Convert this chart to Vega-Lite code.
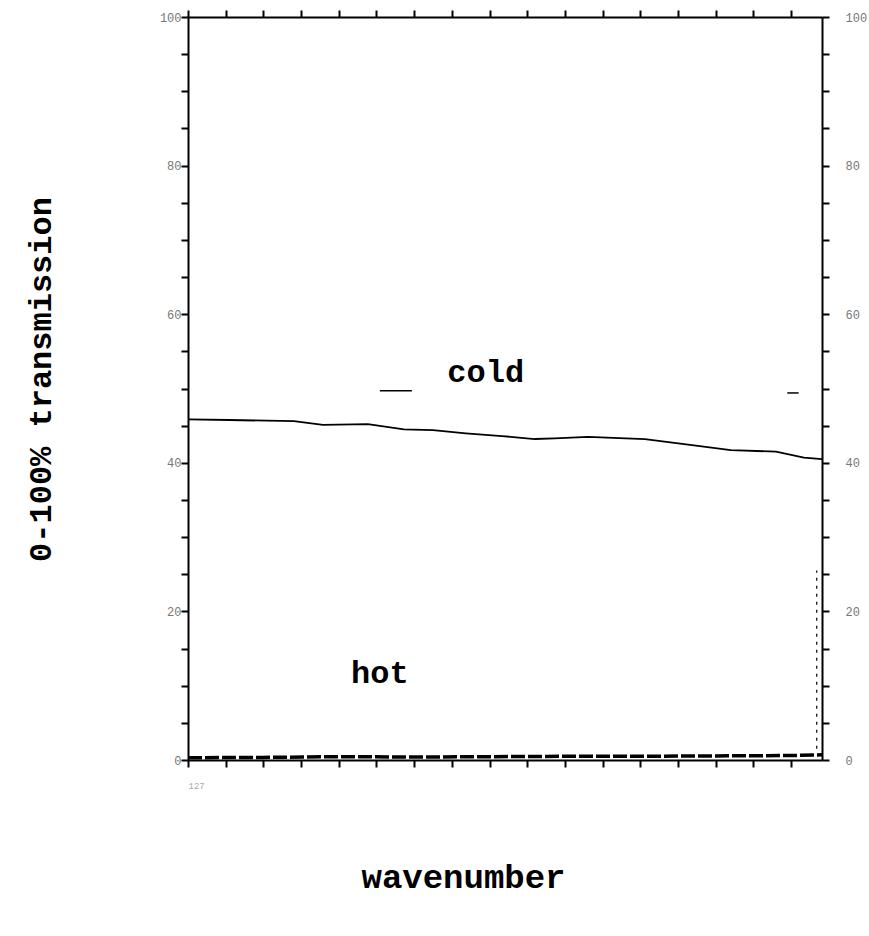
{
  "$schema": "https://vega.github.io/schema/vega-lite/v6.json",
  "width": 634,
  "height": 743,
  "autosize": "none",
  "padding": {"left": 188, "top": 17, "right": 47, "bottom": 176},
  "background": "white",
  "config": {
    "view": {"stroke": null},
    "axis": {
      "domainColor": "black",
      "domainWidth": 2,
      "tickColor": "black",
      "tickWidth": 2,
      "tickSize": 7,
      "grid": false,
      "labelFont": "Liberation Mono",
      "labelFontSize": 12,
      "labelColor": "#777777",
      "titleFont": "Liberation Mono",
      "titleFontWeight": "bold",
      "titleFontSize": 32,
      "titleColor": "black"
    }
  },
  "datasets": {
    "cold": [
      {"wavenumber": 0, "transmission": 45.85},
      {"wavenumber": 1.09, "transmission": 45.76},
      {"wavenumber": 2.81, "transmission": 45.6},
      {"wavenumber": 3.58, "transmission": 45.1},
      {"wavenumber": 4.77, "transmission": 45.2},
      {"wavenumber": 5.73, "transmission": 44.5},
      {"wavenumber": 6.5, "transmission": 44.4},
      {"wavenumber": 7.37, "transmission": 43.97},
      {"wavenumber": 8.33, "transmission": 43.6},
      {"wavenumber": 9.2, "transmission": 43.2},
      {"wavenumber": 9.73, "transmission": 43.3},
      {"wavenumber": 10.61, "transmission": 43.5},
      {"wavenumber": 12.12, "transmission": 43.2},
      {"wavenumber": 13.32, "transmission": 42.4},
      {"wavenumber": 14.4, "transmission": 41.7},
      {"wavenumber": 15.6, "transmission": 41.5},
      {"wavenumber": 16.34, "transmission": 40.7},
      {"wavenumber": 16.82, "transmission": 40.5}
    ],
    "hot": [
      {"wavenumber": 0, "transmission": 0.3},
      {"wavenumber": 2, "transmission": 0.35},
      {"wavenumber": 4, "transmission": 0.45},
      {"wavenumber": 6, "transmission": 0.4},
      {"wavenumber": 8, "transmission": 0.45},
      {"wavenumber": 10, "transmission": 0.5},
      {"wavenumber": 12, "transmission": 0.5},
      {"wavenumber": 14, "transmission": 0.55},
      {"wavenumber": 16, "transmission": 0.6},
      {"wavenumber": 16.82, "transmission": 0.7}
    ],
    "marks": [
      {"x1": 5.09, "x2": 5.94, "y": 49.7},
      {"x1": 15.9, "x2": 16.2, "y": 49.4}
    ],
    "labels": [
      {"label": "cold", "wavenumber": 7.9, "transmission": 52.2},
      {"label": "hot", "wavenumber": 5.09, "transmission": 11.7}
    ],
    "vdash": [
      {"wavenumber": 16.68, "lo": 1.5, "hi": 25.5}
    ]
  },
  "layer": [
    {
      "data": {"name": "cold"},
      "mark": {"type": "line", "color": "black", "strokeWidth": 1.8},
      "encoding": {
        "x": {
          "field": "wavenumber", "type": "quantitative",
          "scale": {"domain": [0, 16.82], "nice": false, "zero": false},
          "axis": {
            "orient": "bottom",
            "values": [0,1,2,3,4,5,6,7,8,9,10,11,12,13,14,15,16],
            "labelExpr": "datum.value == 0 ? '127' : ''",
            "labelFontSize": 9,
            "labelColor": "#aaaaaa",
            "labelPadding": 14,
            "title": "wavenumber",
            "titleFontSize": 34,
            "titleX": 275,
            "titleY": 117,
            "titleBaseline": "middle",
            "titleAlign": "center"
          }
        },
        "y": {
          "field": "transmission", "type": "quantitative",
          "scale": {"domain": [0, 100], "nice": false},
          "axis": {
            "orient": "left",
            "values": [0,5,10,15,20,25,30,35,40,45,50,55,60,65,70,75,80,85,90,95,100],
            "labelExpr": "datum.value % 20 == 0 ? datum.label : ''",
            "labelPadding": 0,
            "title": "0-100% transmission",
            "titleX": -148,
            "titleY": 362,
            "titleAngle": -90,
            "titleBaseline": "middle",
            "titleAlign": "center"
          }
        }
      }
    },
    {
      "data": {"name": "hot"},
      "mark": {"type": "line", "color": "black", "strokeWidth": 3.5, "strokeDash": [14, 3]},
      "encoding": {
        "x": {
          "field": "wavenumber", "type": "quantitative",
          "axis": {
            "orient": "top",
            "values": [0,1,2,3,4,5,6,7,8,9,10,11,12,13,14,15,16],
            "labels": false,
            "title": null
          }
        },
        "y": {
          "field": "transmission", "type": "quantitative",
          "axis": {
            "orient": "right",
            "values": [0,5,10,15,20,25,30,35,40,45,50,55,60,65,70,75,80,85,90,95,100],
            "labelExpr": "datum.value % 20 == 0 ? datum.label : ''",
            "labelPadding": 16,
            "title": null
          }
        }
      }
    },
    {
      "data": {"name": "marks"},
      "mark": {"type": "rule", "color": "black", "strokeWidth": 1.5},
      "encoding": {
        "x": {"field": "x1", "type": "quantitative", "axis": null},
        "x2": {"field": "x2"},
        "y": {"field": "y", "type": "quantitative", "axis": null}
      }
    },
    {
      "data": {"name": "vdash"},
      "mark": {"type": "rule", "color": "black", "strokeWidth": 1.2, "strokeDash": [3, 5]},
      "encoding": {
        "x": {"field": "wavenumber", "type": "quantitative", "axis": null},
        "y": {"field": "lo", "type": "quantitative", "axis": null},
        "y2": {"field": "hi"}
      }
    },
    {
      "data": {"name": "labels"},
      "mark": {"type": "text", "font": "Liberation Mono", "fontWeight": "bold", "fontSize": 32, "align": "center", "baseline": "middle", "color": "black"},
      "encoding": {
        "x": {"field": "wavenumber", "type": "quantitative", "axis": null},
        "y": {"field": "transmission", "type": "quantitative", "axis": null},
        "text": {"field": "label"}
      }
    }
  ],
  "resolve": {"axis": {"x": "independent", "y": "independent"}}
}
